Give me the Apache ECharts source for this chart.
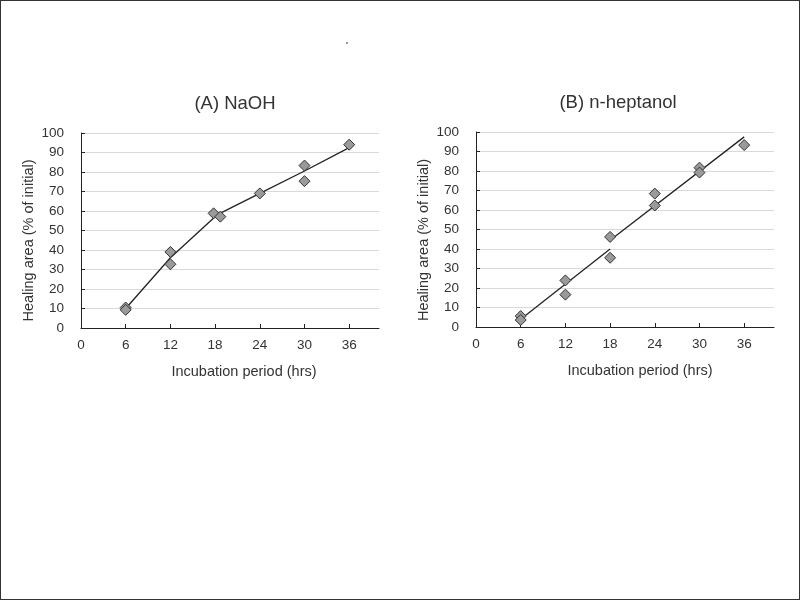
<!DOCTYPE html>
<html>
<head>
<meta charset="utf-8">
<script src="https://cdn.jsdelivr.net/npm/echarts@6/dist/echarts.min.js"></script>
<style>
html,body{margin:0;padding:0;background:#fff;}
#chart{width:800px;height:600px;}
</style>
</head>
<body>
<div id="chart"></div>
<script>
// ---- data ----
const titleA = '(A) NaOH';
const titleB = '(B) n-heptanol';
const xName = 'Incubation period (hrs)';
const yName = 'Healing area (% of initial)';
const xTicks = [0, 6, 12, 18, 24, 30, 36];

const naohX = [6, 6, 12, 12, 17.8, 18.7, 24, 30, 30, 36];
const naohY = [10.5, 9.3, 39, 32.7, 58.8, 57.1, 69, 83.3, 75.3, 94];
const naohLineX = [6, 12, 18.25, 24, 30, 36];
const naohLineY = [10, 36, 58, 69, 80.5, 92.5];

const heptX = [6, 6, 12, 12, 18, 18, 24, 24, 30, 30, 36];
const heptY = [5.6, 3.6, 23.9, 16.6, 46.2, 35.5, 68.4, 62.3, 81.7, 79.2, 93.3];
const heptFit1X = [6, 18];
const heptFit1Y = [4, 40];
const heptFit2X = [18, 36];
const heptFit2Y = [44.5, 97.5];

const zip = (xs, ys) => xs.map((x, i) => [x, ys[i]]);

const FONT = '"Liberation Sans", Arial, sans-serif';
const TXT = '#333';

function xAxis(gi, padLeft) {
  return {
    type: 'value', gridIndex: gi, min: 0, max: 40, interval: 6,
    name: xName, nameLocation: 'middle', nameGap: 36,
    nameTextStyle: { fontFamily: FONT, fontSize: 14.5, color: TXT, padding: [0, 0, 0, padLeft] },
    axisLine: { show: true, onZero: false, lineStyle: { color: '#222', width: 1 } },
    axisTick: { show: true, inside: true, length: 4, customValues: xTicks, lineStyle: { color: '#222' } },
    axisLabel: { customValues: xTicks, margin: 10, fontFamily: FONT, fontSize: 13.5, color: TXT },
    splitLine: { show: false }
  };
}
function yAxis(gi, padRight) {
  return {
    type: 'value', gridIndex: gi, min: 0, max: 100, interval: 10,
    name: yName, nameLocation: 'middle', nameGap: 44.5,
    nameTextStyle: { fontFamily: FONT, fontSize: 14.5, color: TXT, padding: [0, padRight, 0, 0] },
    axisLine: { show: true, lineStyle: { color: '#222', width: 1 } },
    axisTick: { show: true, inside: true, length: 4, lineStyle: { color: '#222' } },
    axisLabel: { margin: 17, fontFamily: FONT, fontSize: 13.5, color: TXT },
    splitLine: { show: true, lineStyle: { color: '#d9d9d9', width: 1 } }
  };
}
const diamond = {
  type: 'scatter', symbol: 'diamond', symbolSize: 11, z: 5,
  itemStyle: { color: '#9a9a9a', borderColor: '#333', borderWidth: 1, opacity: 1 }
};
const trend = {
  type: 'line', symbol: 'none', z: 3, silent: true,
  lineStyle: { color: '#222', width: 1.3 }
};

const chart = echarts.init(document.getElementById('chart'), null, { renderer: 'canvas' });
chart.setOption({
  backgroundColor: '#fff',
  animation: false,
  title: [
    { text: titleA, left: 235, top: 94, textAlign: 'center', padding: 0,
      textStyle: { fontFamily: FONT, fontSize: 18.5, fontWeight: 'normal', color: TXT } },
    { text: titleB, left: 618, top: 93, textAlign: 'center', padding: 0,
      textStyle: { fontFamily: FONT, fontSize: 18.5, fontWeight: 'normal', color: TXT } }
  ],
  grid: [
    { left: 81, top: 133, width: 298, height: 195, outerBoundsMode: 'none' },
    { left: 476, top: 132, width: 298, height: 195, outerBoundsMode: 'none' }
  ],
  xAxis: [xAxis(0, 28), xAxis(1, 30)],
  yAxis: [yAxis(0, 20), yAxis(1, 21)],
  series: [
    Object.assign({}, trend, { xAxisIndex: 0, yAxisIndex: 0, data: zip(naohLineX, naohLineY) }),
    Object.assign({}, diamond, { xAxisIndex: 0, yAxisIndex: 0, data: zip(naohX, naohY) }),
    Object.assign({}, trend, { xAxisIndex: 1, yAxisIndex: 1, data: zip(heptFit1X, heptFit1Y) }),
    Object.assign({}, trend, { xAxisIndex: 1, yAxisIndex: 1, data: zip(heptFit2X, heptFit2Y) }),
    Object.assign({}, diamond, { xAxisIndex: 1, yAxisIndex: 1, data: zip(heptX, heptY) })
  ],
  graphic: [
    { type: 'rect', shape: { x: 0, y: 0, width: 800, height: 600 },
      style: { fill: null, stroke: '#333', lineWidth: 2 }, silent: true, z: 100 },
    { type: 'rect', shape: { x: 346, y: 42, width: 2, height: 2 },
      style: { fill: '#999' }, silent: true }
  ]
});
</script>
</body>
</html>
